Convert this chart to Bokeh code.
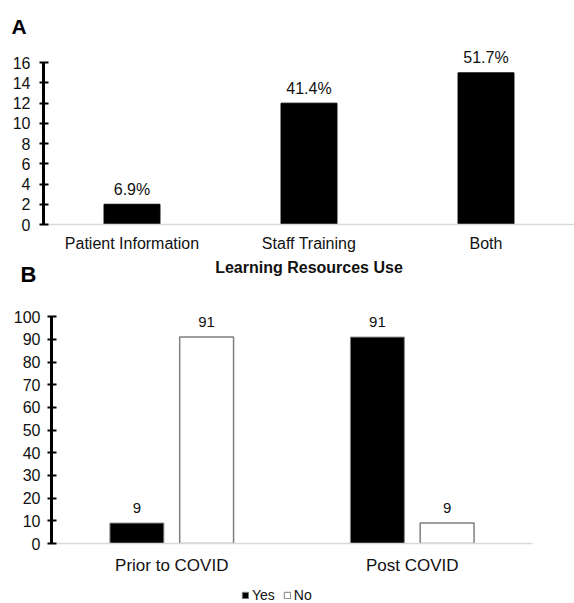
from bokeh.plotting import figure
from bokeh.models import (FactorRange, ColumnDataSource, Label, Legend, LegendItem,
                          FixedTicker, Range1d, Title)
from bokeh.layouts import column
from bokeh.transform import dodge
from bokeh.embed import file_html
from bokeh.resources import INLINE
from bokeh.core.properties import value

# ---------------- Data ----------------
# Panel A
resources = ["Patient Information", "Staff Training", "Both"]
resource_counts = [2, 12, 15]
resource_pct = ["6.9%", "41.4%", "51.7%"]
a_ticks = [0, 2, 4, 6, 8, 10, 12, 14, 16]
a_axis_title = "Learning Resources Use"

# Panel B
periods = ["Prior to COVID", "Post COVID"]
yes_vals = [9, 91]
no_vals = [91, 9]
b_ticks = [0, 10, 20, 30, 40, 50, 60, 70, 80, 90, 100]
series_names = ["Yes", "No"]

FONT = "Liberation Sans"
TXT = "#111111"
W = 574


def style_axes(p, xstandoff, ystandoff, ylabel_size="16px", xlabel_size="16px"):
    p.xgrid.grid_line_color = None
    p.ygrid.grid_line_color = None
    p.outline_line_color = None
    p.background_fill_color = "white"
    p.border_fill_color = "white"
    ya = p.yaxis[0]
    ya.axis_line_color = "black"
    ya.axis_line_width = 3
    ya.major_tick_line_color = "black"
    ya.major_tick_line_width = 2
    ya.major_tick_out = 4
    ya.major_tick_in = 5
    ya.minor_tick_line_color = None
    ya.major_label_text_font = FONT
    ya.major_label_text_font_size = ylabel_size
    ya.major_label_text_color = TXT
    ya.major_label_standoff = ystandoff
    xa = p.xaxis[0]
    xa.axis_line_color = "#d9d9d9"
    xa.axis_line_width = 1.5
    xa.major_tick_line_color = None
    xa.major_tick_out = 0
    xa.major_tick_in = 0
    xa.minor_tick_line_color = None
    xa.major_label_text_font = FONT
    xa.major_label_text_font_size = xlabel_size
    xa.major_label_text_color = TXT
    xa.major_label_standoff = xstandoff


def blank(p):
    p.xgrid.grid_line_color = None
    p.ygrid.grid_line_color = None
    p.outline_line_color = None
    p.background_fill_color = "white"
    p.border_fill_color = "white"


# ---------------- Panel A ----------------
srcA = ColumnDataSource(dict(res=resources, count=resource_counts, pct=resource_pct))

pa = figure(width=W, height=258,
            x_range=FactorRange(factors=resources, range_padding=0),
            y_range=Range1d(0, 18.2),
            output_backend="svg", toolbar_location=None, frame_align=False,
            min_border_left=43, min_border_right=0,
            min_border_top=40, min_border_bottom=34)
pa.title = Title(text="A", align="left", offset=-32, standoff=6,
                 text_font=FONT, text_font_style="bold", text_font_size="21px",
                 text_color="black")
pa.vbar(x="res", top="count", width=0.316, source=srcA,
        fill_color="black", line_color="black", line_width=1)
pa.text(x="res", y="count", text="pct", source=srcA, y_offset=-15,
        text_align="center", text_baseline="alphabetic",
        text_font=value(FONT), text_font_size="16px", text_color=TXT)
style_axes(pa, xstandoff=10, ystandoff=9)
pa.yaxis[0].ticker = FixedTicker(ticks=a_ticks)
pa.yaxis[0].bounds = (a_ticks[0], a_ticks[-1])

# ---------------- Middle row: panel B letter + panel A axis title ----------------
pm = figure(width=W, height=32, x_range=Range1d(0, 1), y_range=Range1d(0, 1),
            output_backend="svg", toolbar_location=None, frame_align=False,
            x_axis_location=None, y_axis_location=None,
            min_border_left=0, min_border_right=0, min_border_top=0, min_border_bottom=0)
blank(pm)
pm.add_layout(Label(x=20, y=16, x_units="screen", y_units="screen", text="B",
                    text_font=FONT, text_font_style="bold", text_font_size="22px",
                    text_color="black", text_baseline="alphabetic", text_align="left"))
pm.add_layout(Label(x=308.5, y=23, x_units="screen", y_units="screen", text=a_axis_title,
                    text_font=FONT, text_font_style="bold", text_font_size="16px",
                    text_color=TXT, text_baseline="alphabetic", text_align="center"))

# ---------------- Panel B ----------------
srcB = ColumnDataSource(dict(period=periods, yes=yes_vals, no=no_vals,
                             yes_txt=[str(v) for v in yes_vals],
                             no_txt=[str(v) for v in no_vals]))

pb = figure(width=W, height=290,
            x_range=FactorRange(factors=periods, range_padding=0),
            y_range=Range1d(0, 108.9),
            output_backend="svg", toolbar_location=None, frame_align=False,
            min_border_left=51, min_border_right=42,
            min_border_top=6, min_border_bottom=37)
r_yes = pb.vbar(x=dodge("period", -0.145, range=pb.x_range), top="yes", width=0.224,
                source=srcB, fill_color="black", line_color="#7f7f7f", line_width=1)
r_no = pb.vbar(x=dodge("period", 0.145, range=pb.x_range), top="no", width=0.224,
               source=srcB, fill_color="white", line_color="#7f7f7f", line_width=1.5)
pb.text(x=dodge("period", -0.145, range=pb.x_range), y="yes", text="yes_txt", source=srcB,
        y_offset=-15, text_align="center", text_baseline="alphabetic",
        text_font=value(FONT), text_font_size="15px", text_color=TXT)
pb.text(x=dodge("period", 0.145, range=pb.x_range), y="no", text="no_txt", source=srcB,
        y_offset=-15, text_align="center", text_baseline="alphabetic",
        text_font=value(FONT), text_font_size="15px", text_color=TXT)
style_axes(pb, xstandoff=12, ystandoff=7, xlabel_size="17px")
pb.yaxis[0].ticker = FixedTicker(ticks=b_ticks)
pb.yaxis[0].bounds = (b_ticks[0], b_ticks[-1])

# ---------------- Legend row ----------------
pl = figure(width=W, height=23, x_range=Range1d(0, 1), y_range=Range1d(0, 1),
            output_backend="svg", toolbar_location=None, frame_align=False,
            x_axis_location=None, y_axis_location=None,
            min_border_left=0, min_border_right=0, min_border_top=0, min_border_bottom=0)
blank(pl)
key_yes = pl.vbar(x=[0], top=[1], width=0.1, fill_color="black",
                  line_color="#7f7f7f", line_width=1, visible=False)
key_no = pl.vbar(x=[0], top=[1], width=0.1, fill_color="white",
                 line_color="#7f7f7f", line_width=1, visible=False)
legend = Legend(items=[LegendItem(label=series_names[0], renderers=[key_yes]),
                       LegendItem(label=series_names[1], renderers=[key_no])],
                location=(241, 0), orientation="horizontal",
                glyph_width=8, glyph_height=8, label_standoff=3, spacing=8,
                padding=0, margin=0, border_line_color=None,
                background_fill_alpha=0, label_height=16,
                inactive_fill_alpha=0,
                label_text_font=FONT, label_text_font_size="14px",
                label_text_color=TXT)
pl.add_layout(legend)

layout = column(pa, pm, pb, pl, spacing=0)
open("out.html", "w").write(file_html(layout, INLINE))
